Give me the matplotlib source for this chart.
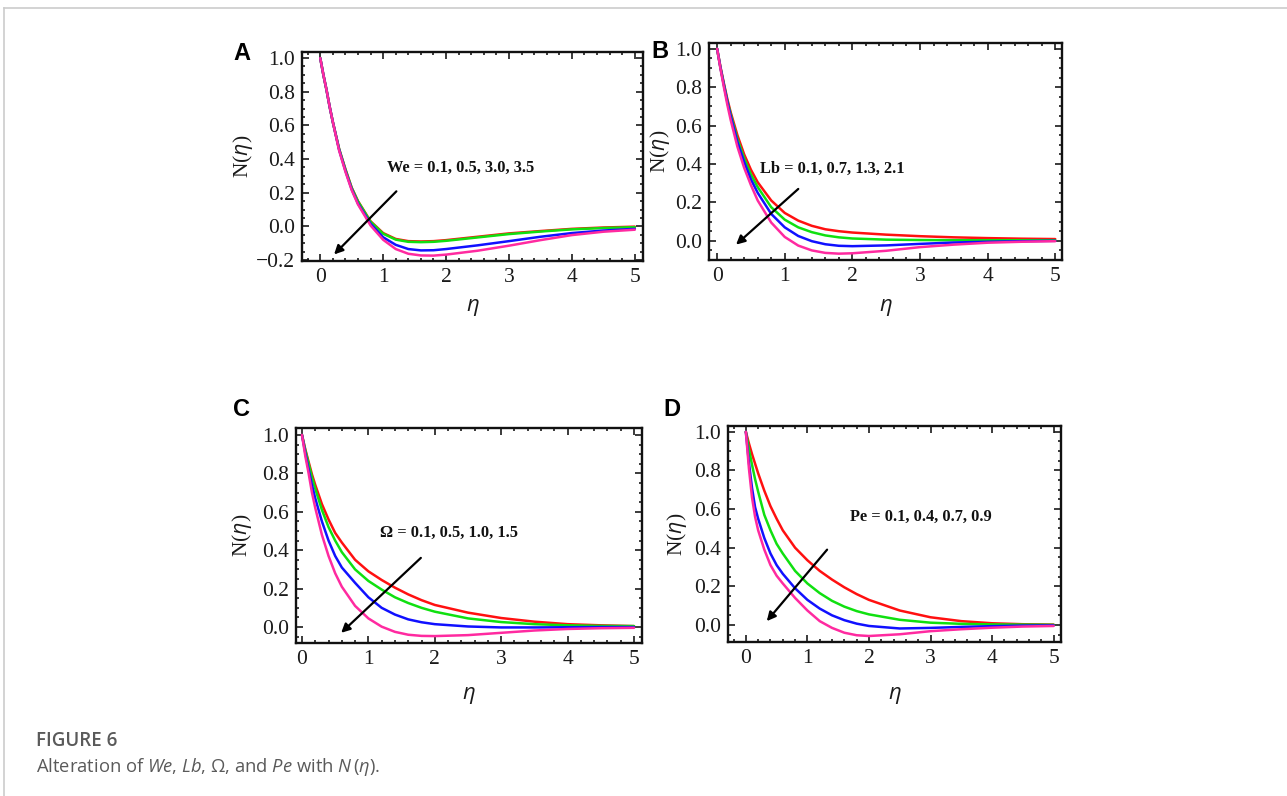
# -*- coding: utf-8 -*-
import matplotlib
matplotlib.use("Agg")
import matplotlib.pyplot as plt
from matplotlib.ticker import MultipleLocator, FuncFormatter

eta = [0, 0.05, 0.1, 0.15, 0.2, 0.3, 0.4, 0.5, 0.6, 0.8, 1.0, 1.2, 1.4, 1.6, 1.8, 2.0, 2.5, 3.0, 3.5, 4.0, 4.5, 5.0]

# panel A: We = 0.1, 0.5, 3.0, 3.5
weRed = [1.0, 0.90, 0.81, 0.71, 0.62, 0.46, 0.34, 0.23, 0.15, 0.03, -0.04, -0.075, -0.088, -0.09, -0.088, -0.082, -0.062, -0.042, -0.028, -0.015, -0.007, -0.002]
weGreen = [1.0, 0.90, 0.81, 0.71, 0.62, 0.46, 0.338, 0.228, 0.148, 0.027, -0.044, -0.079, -0.092, -0.094, -0.092, -0.086, -0.066, -0.046, -0.031, -0.018, -0.01, -0.005]
weBlue = [1.0, 0.90, 0.81, 0.71, 0.62, 0.455, 0.33, 0.22, 0.135, 0.015, -0.065, -0.11, -0.135, -0.143, -0.142, -0.135, -0.113, -0.088, -0.062, -0.04, -0.025, -0.015]
wePink = [1.0, 0.90, 0.81, 0.71, 0.62, 0.45, 0.325, 0.215, 0.13, 0.005, -0.08, -0.135, -0.163, -0.173, -0.174, -0.168, -0.145, -0.115, -0.082, -0.052, -0.032, -0.02]

# panel B: Lb = 0.1, 0.7, 1.3, 2.1
lbRed = [1.0, 0.905, 0.82, 0.74, 0.67, 0.55, 0.45, 0.37, 0.305, 0.21, 0.145, 0.105, 0.078, 0.06, 0.05, 0.043, 0.032, 0.024, 0.018, 0.014, 0.011, 0.009]
lbGreen = [1.0, 0.90, 0.815, 0.73, 0.66, 0.53, 0.43, 0.345, 0.28, 0.175, 0.11, 0.07, 0.045, 0.028, 0.018, 0.012, 0.006, 0.004, 0.003, 0.003, 0.003, 0.003]
lbBlue = [1.0, 0.90, 0.81, 0.725, 0.65, 0.515, 0.41, 0.32, 0.25, 0.14, 0.07, 0.025, -0.002, -0.018, -0.026, -0.028, -0.024, -0.016, -0.009, -0.005, -0.002, 0.0]
lbPink = [1.0, 0.895, 0.80, 0.71, 0.63, 0.49, 0.38, 0.29, 0.21, 0.095, 0.02, -0.025, -0.05, -0.063, -0.067, -0.065, -0.052, -0.033, -0.02, -0.01, -0.005, -0.002]

# panel C: Omega = 0.1, 0.5, 1.0, 1.5
omRed = [1.0, 0.925, 0.86, 0.795, 0.74, 0.64, 0.56, 0.49, 0.44, 0.35, 0.29, 0.245, 0.205, 0.17, 0.14, 0.115, 0.075, 0.047, 0.028, 0.015, 0.009, 0.005]
omGreen = [1.0, 0.92, 0.85, 0.78, 0.72, 0.61, 0.52, 0.45, 0.39, 0.30, 0.24, 0.195, 0.155, 0.125, 0.1, 0.08, 0.045, 0.026, 0.015, 0.009, 0.006, 0.005]
omBlue = [1.0, 0.905, 0.82, 0.74, 0.67, 0.55, 0.45, 0.37, 0.31, 0.23, 0.155, 0.1, 0.065, 0.04, 0.025, 0.015, 0.003, -0.002, -0.002, -0.001, 0.0, 0.0]
omPink = [1.0, 0.89, 0.80, 0.70, 0.62, 0.48, 0.37, 0.28, 0.21, 0.11, 0.045, 0.002, -0.025, -0.04, -0.046, -0.047, -0.042, -0.03, -0.018, -0.01, -0.006, -0.004]

# panel D: Pe = 0.1, 0.4, 0.7, 0.9
peRed = [1.0, 0.94, 0.885, 0.835, 0.785, 0.695, 0.615, 0.55, 0.49, 0.40, 0.335, 0.28, 0.235, 0.195, 0.16, 0.13, 0.075, 0.04, 0.02, 0.009, 0.004, 0.002]
peGreen = [1.0, 0.91, 0.83, 0.755, 0.69, 0.57, 0.49, 0.42, 0.37, 0.28, 0.215, 0.165, 0.125, 0.095, 0.072, 0.055, 0.027, 0.012, 0.006, 0.003, 0.002, 0.001]
peBlue = [1.0, 0.84, 0.71, 0.61, 0.55, 0.45, 0.37, 0.31, 0.265, 0.19, 0.13, 0.085, 0.05, 0.025, 0.007, -0.005, -0.018, -0.015, -0.01, -0.006, -0.003, -0.002]
pePink = [1.0, 0.81, 0.66, 0.56, 0.49, 0.39, 0.31, 0.255, 0.215, 0.14, 0.075, 0.02, -0.015, -0.04, -0.053, -0.057, -0.048, -0.032, -0.022, -0.014, -0.008, -0.005]

paramLabels = ["We = 0.1, 0.5, 3.0, 3.5", "Lb = 0.1, 0.7, 1.3, 2.1",
               "\u03a9 = 0.1, 0.5, 1.0, 1.5", "Pe = 0.1, 0.4, 0.7, 0.9"]
xTicks = [0, 1, 2, 3, 4, 5]
yTicksA = [-0.2, 0.0, 0.2, 0.4, 0.6, 0.8, 1.0]
yTicksRest = [0.0, 0.2, 0.4, 0.6, 0.8, 1.0]

lineColors = ["#ff1010", "#10e010", "#1010ff", "#ff2aa0"]
W, H = 1287.0, 796.0


def fmt(v, pos):
    s = "%.1f" % v
    if s == "-0.0":
        s = "0.0"
    return s.replace("-", "\u2212")


def drawPanel(fig, box, xlim, ylim, series, yTicks, letter, letterPos,
              label, labelPos, arrowTail, arrowHead, ylabelX, xlabelY):
    left, right, top, bottom = box
    ax = fig.add_axes([left / W, 1 - bottom / H, (right - left) / W, (bottom - top) / H])
    for ys, c in zip(series, lineColors):
        ax.plot(eta, ys, color=c, lw=1.8, solid_capstyle="round", solid_joinstyle="round")
    ax.set_xlim(*xlim)
    ax.set_ylim(*ylim)
    ax.set_xticks(xTicks)
    ax.set_yticks(yTicks)
    ax.xaxis.set_minor_locator(MultipleLocator(0.2))
    ax.yaxis.set_minor_locator(MultipleLocator(0.05))
    ax.yaxis.set_major_formatter(FuncFormatter(fmt))
    ax.tick_params(which="both", direction="in", top=True, right=True,
                   width=1.2, colors="#1a1a1a", labelsize=15.5, pad=5)
    ax.tick_params(which="major", length=5)
    ax.tick_params(which="minor", length=2.5)
    for lab in ax.get_xticklabels() + ax.get_yticklabels():
        lab.set_family("Liberation Serif")
    for s in ax.spines.values():
        s.set_linewidth(1.7)
        s.set_color("#111111")
    ax.annotate("", xy=arrowHead, xytext=arrowTail,
                arrowprops=dict(arrowstyle="-|>", color="black", lw=1.6,
                                mutation_scale=13, shrinkA=0, shrinkB=0))
    ax.text(labelPos[0], labelPos[1], label, family="Liberation Serif",
            weight="bold", fontsize=11.8, ha="left", va="center", color="#111111")
    fig.text(letterPos[0] / W, 1 - letterPos[1] / H, letter, family="Liberation Sans",
             weight="bold", fontsize=17, ha="center", va="center", color="black")
    cy = 1 - (top + bottom) / 2.0 / H
    fig.text(ylabelX / W, cy, "N($\\it{\\eta}$)", family="Liberation Serif",
             fontsize=15.5, rotation=90, ha="center", va="center", color="#1a1a1a")
    cx = (left + right) / 2.0 / W
    fig.text(cx, 1 - xlabelY / H, "$\\it{\\eta}$", fontsize=16,
             ha="center", va="center", color="#1a1a1a")
    return ax


plt.rcParams["mathtext.fontset"] = "custom"
plt.rcParams["mathtext.it"] = "Liberation Serif:italic"
plt.rcParams["mathtext.rm"] = "Liberation Serif"

fig = plt.figure(figsize=(W / 100, H / 100), dpi=100)

drawPanel(fig, (302, 643, 52, 261), (-0.29, 5.13), (-0.206, 1.036),
          [weRed, weGreen, weBlue, wePink], yTicksA, "A", (242, 53),
          paramLabels[0], (1.06, 0.35), (1.21, 0.208), (0.22, -0.167), 243, 307)
drawPanel(fig, (709, 1062, 43, 260), (-0.12, 5.10), (-0.10, 1.03),
          [lbRed, lbGreen, lbBlue, lbPink], yTicksRest, "B", (660, 52),
          paramLabels[1], (0.64, 0.375), (1.20, 0.27), (0.28, -0.02), 660, 307)
drawPanel(fig, (296, 642, 428, 643), (-0.09, 5.12), (-0.083, 1.036),
          [omRed, omGreen, omBlue, omPink], yTicksRest, "C", (241, 410),
          paramLabels[2], (1.17, 0.49), (1.79, 0.36), (0.59, -0.03), 242, 695)
drawPanel(fig, (728, 1061, 426, 642), (-0.29, 5.12), (-0.088, 1.03),
          [peRed, peGreen, peBlue, pePink], yTicksRest, "D", (672, 410),
          paramLabels[3], (1.69, 0.56), (1.32, 0.39), (0.34, 0.02), 677, 695)

# page frame lines
fig.add_artist(plt.Line2D([4 / W, 1], [1 - 8 / H, 1 - 8 / H], color="#cccccc", lw=1.2))
fig.add_artist(plt.Line2D([4 / W, 4 / W], [0, 1 - 8 / H], color="#cccccc", lw=1.2))

# caption
plt.rcParams["mathtext.it"] = "Open Sans:italic"
plt.rcParams["mathtext.rm"] = "Open Sans"
fig.text(36 / W, 1 - 741 / H, "FIGURE 6", family="Open Sans", weight="semibold",
         fontsize=13.5, color="#5a5a5a", ha="left", va="center")
fig.text(36 / W, 1 - 767 / H,
         "Alteration of $\\it{We}$, $\\it{Lb}$, $\\it{\\Omega}$, and $\\it{Pe}$ with $\\it{N}\\,(\\it{\\eta})$.",
         family="Open Sans", fontsize=13.2, color="#5a5a5a", ha="left", va="center")

fig.savefig("out.png", dpi=100)
